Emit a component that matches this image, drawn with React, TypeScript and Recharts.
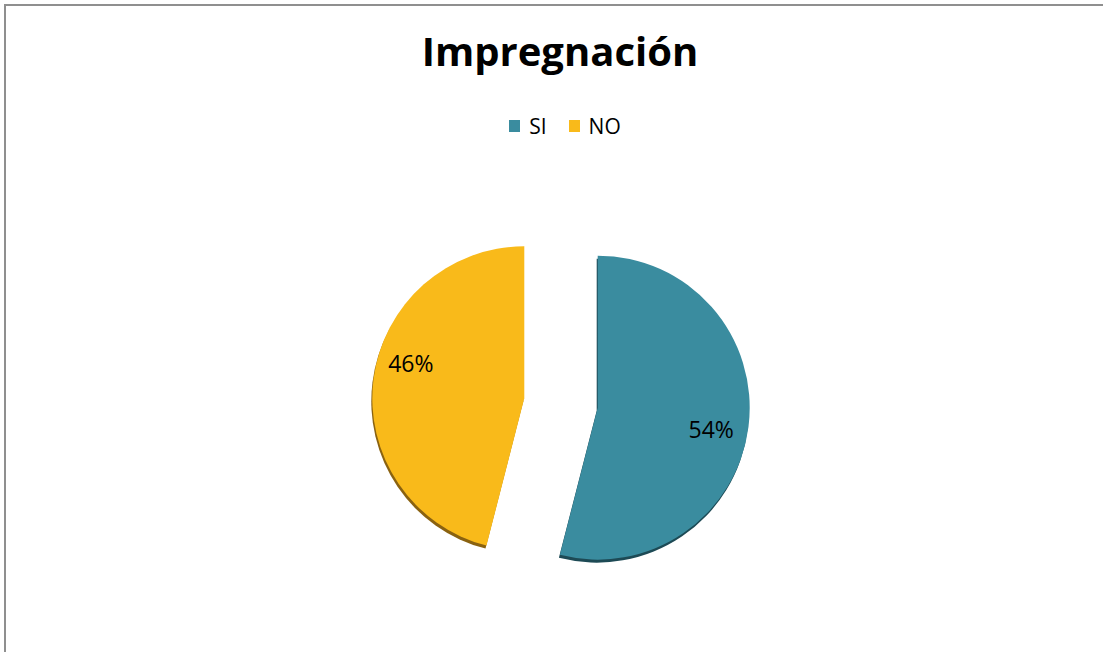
import React from "react";
import { PieChart, Pie, Cell, Sector } from "recharts";

const categories = ["SI", "NO"];
const values = [54, 46];
const colors = ["#3a8c9f", "#f9ba1a"];
const edgeColors = ["#1d4a55", "#8a6210"];
const title = "Impregnación";

const data = categories.map((name, i) => ({ name, value: values[i] }));

const W = 1103;
const H = 652;
const EXPLODE = 37;
const RAD = Math.PI / 180;

const offsetOf = (midAngle: number) => ({
  dx: EXPLODE * Math.cos(-midAngle * RAD),
  dy: EXPLODE * Math.sin(-midAngle * RAD),
});

const ExplodedSector = (props: any) => {
  const { cx, cy, midAngle, index } = props;
  const { dx, dy } = offsetOf(midAngle);
  const i = index ?? categories.indexOf(props.name ?? props.payload?.name);
  return (
    <g>
      <Sector {...props} cx={cx + dx - 1} cy={cy + dy + 3} fill={edgeColors[i] ?? "#333"} stroke="none" />
      <Sector {...props} cx={cx + dx} cy={cy + dy} stroke="none" />
    </g>
  );
};

const renderLabel = (props: any) => {
  const { cx, cy, midAngle, outerRadius, percent } = props;
  const { dx, dy } = offsetOf(midAngle);
  const r = outerRadius * 0.77;
  const a = midAngle - 7;
  const x = cx + dx + r * Math.cos(-a * RAD);
  const y = cy + dy + r * Math.sin(-a * RAD) - 7;
  return (
    <text
      x={x}
      y={y}
      textAnchor="middle"
      dominantBaseline="central"
      fill="#000"
      fontSize={23}
      fontFamily="'Open Sans', sans-serif"
    >
      {`${Math.round(percent * 100)}%`}
    </text>
  );
};

export default function App() {
  return (
    <div
      style={{
        position: "absolute",
        left: 0,
        top: 0,
        width: W,
        height: H,
        overflow: "hidden",
        background: "#fff",
      }}
    >
      <div
        style={{
          position: "absolute",
          left: 4,
          top: 4,
          width: W + 50,
          height: H + 50,
          borderLeft: "2px solid #8f8f8f",
          borderTop: "2px solid #8f8f8f",
        }}
      />
      <div
        style={{
          position: "absolute",
          left: 0,
          top: 23,
          width: 1120,
          textAlign: "center",
          fontFamily: "'Open Sans', sans-serif",
          fontWeight: 700,
          fontSize: 40,
          color: "#000",
        }}
      >
        {title}
      </div>
      <div
        style={{
          position: "absolute",
          left: 5,
          top: 112,
          width: 1120,
          display: "flex",
          justifyContent: "center",
          alignItems: "center",
          fontFamily: "'Open Sans', sans-serif",
          fontSize: 21,
          color: "#000",
        }}
      >
        {categories.map((c, i) => (
          <div key={c} style={{ display: "flex", alignItems: "center", marginRight: i === 0 ? 22 : 0 }}>
            <div style={{ width: 11, height: 12, background: colors[i], marginRight: 9 }} />
            <span>{c}</span>
          </div>
        ))}
      </div>
      <div style={{ position: "absolute", left: 0, top: 0 }}>
        <PieChart width={W} height={H} margin={{ top: 0, right: 0, bottom: 0, left: 0 }}>
          <Pie
            data={data}
            dataKey="value"
            nameKey="name"
            cx={561}
            cy={403}
            outerRadius={152}
            startAngle={90}
            endAngle={-270}
            stroke="none"
            isAnimationActive={false}
            shape={ExplodedSector}
            activeShape={ExplodedSector}
            inactiveShape={ExplodedSector}
            label={renderLabel}
            labelLine={false}
          >
            {data.map((d, i) => (
              <Cell key={d.name} fill={colors[i]} />
            ))}
          </Pie>
        </PieChart>
      </div>
    </div>
  );
}
